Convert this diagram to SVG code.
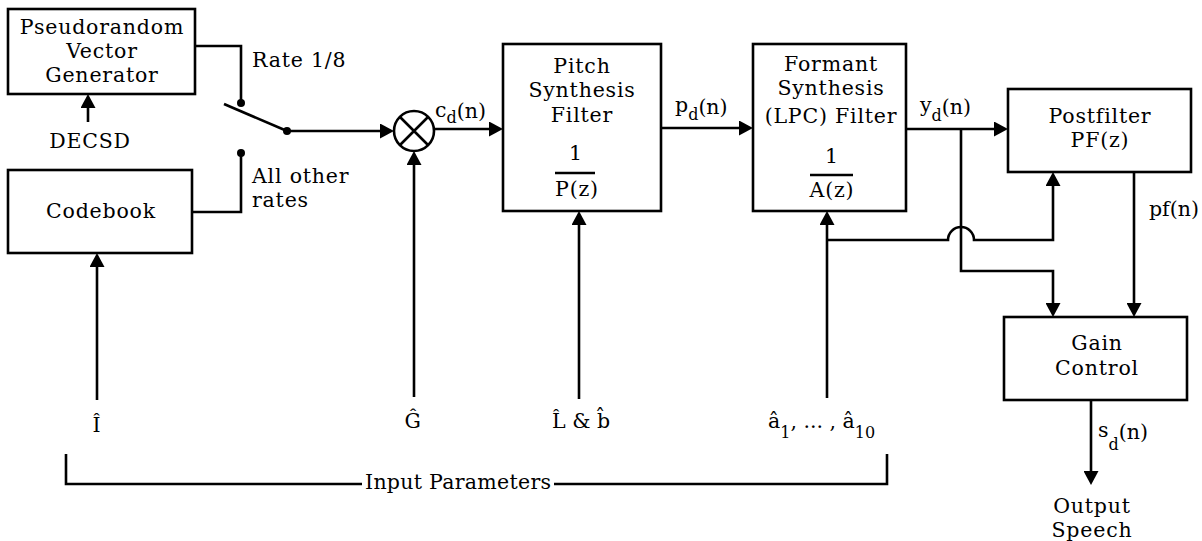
<svg xmlns="http://www.w3.org/2000/svg" width="1202" height="541" viewBox="0 0 1202 541">
<defs>
<marker id="ah" viewBox="0 0 14 15" refX="10" refY="7.5" markerWidth="14" markerHeight="15" markerUnits="userSpaceOnUse" orient="auto">
<path d="M0,0 L14,7.5 L0,15 z" fill="#000"/>
</marker>
<style>
text{font-family:"DejaVu Serif","Liberation Serif",serif;font-size:20.5px;letter-spacing:0.8px;fill:#000}
.c{text-anchor:middle}
.sub{font-size:16px;letter-spacing:0}
.box{fill:#fff;stroke:#000;stroke-width:2.6}
.ln{fill:none;stroke:#000;stroke-width:2.6}
.ar{fill:none;stroke:#000;stroke-width:2.6;marker-end:url(#ah)}
.dot{fill:#000}
</style>
</defs>
<rect width="1202" height="541" fill="#fff"/>

<g id="connectors">
<line class="ar" x1="88" y1="122" x2="88" y2="98"/>
<path class="ln" d="M195,46 H241 V103"/>
<path class="ln" d="M192,212 H241 V153"/>
<line class="ln" x1="224" y1="104" x2="287" y2="131"/>
<line class="ar" x1="287" y1="131" x2="390" y2="131"/>
<line class="ar" x1="414" y1="397" x2="414" y2="155"/>
<line class="ar" x1="434" y1="129" x2="499" y2="129"/>
<line class="ar" x1="661" y1="128" x2="749" y2="128"/>
<line class="ar" x1="906" y1="129" x2="1004" y2="129"/>
<line class="ar" x1="97" y1="400" x2="97" y2="257"/>
<line class="ar" x1="579" y1="399" x2="579" y2="215"/>
<line class="ar" x1="827" y1="398" x2="827" y2="215"/>
<path class="ar" d="M827,240 H948 A13,13 0 0 1 974,240 H1053 V176"/>
<path class="ar" d="M961,129 V271 H1053 V313"/>
<line class="ar" x1="1134" y1="172" x2="1134" y2="313"/>
<line class="ar" x1="1091" y1="400" x2="1091" y2="481"/>
<path class="ln" d="M66,454 V484 H362"/>
<path class="ln" d="M554,484 H887 V454"/>
<circle class="dot" cx="241" cy="103" r="4"/>
<circle class="dot" cx="241" cy="153" r="4"/>
<circle class="dot" cx="287" cy="131" r="4"/>
</g>

<g id="pseudorandom">
<rect class="box" x="8" y="9" width="187" height="85"/>
<text class="c" x="102" y="34">Pseudorandom</text>
<text class="c" x="102" y="58">Vector</text>
<text class="c" x="102" y="82">Generator</text>
</g>
<g id="decsd"><text class="c" x="90" y="148">DECSD</text></g>

<g id="codebook">
<rect class="box" x="8" y="170" width="184" height="83"/>
<text class="c" x="101" y="218">Codebook</text>
</g>

<g id="switch-labels">
<text x="252" y="67">Rate 1/8</text>
<text x="252" y="183">All other</text>
<text x="252" y="207">rates</text>
</g>

<g id="multiplier">
<circle cx="414" cy="131" r="20" fill="#fff" stroke="#000" stroke-width="2.6"/>
<path class="ln" d="M400,117 L428,145 M428,117 L400,145"/>
</g>
<g id="cd-label"><text x="435" y="117" style="letter-spacing:0">c<tspan class="sub" dy="6">d</tspan><tspan dy="-5">(n)</tspan></text></g>

<g id="pitch">
<rect class="box" x="503" y="44" width="158" height="167"/>
<text class="c" x="582" y="73">Pitch</text>
<text class="c" x="582" y="97">Synthesis</text>
<text class="c" x="582" y="122">Filter</text>
<text class="c" x="576" y="160">1</text>
<line class="ln" x1="555" y1="173" x2="595" y2="173" stroke-width="3"/>
<text class="c" x="577" y="196">P(z)</text>
</g>
<g id="pd-label"><text x="675" y="112" style="letter-spacing:0">p<tspan class="sub" dy="8">d</tspan><tspan dy="-6">(n)</tspan></text></g>

<g id="formant">
<rect class="box" x="753" y="44" width="153" height="167"/>
<text class="c" x="831" y="71">Formant</text>
<text class="c" x="831" y="95">Synthesis</text>
<text class="c" x="831" y="123">(LPC) Filter</text>
<text class="c" x="832" y="163">1</text>
<line class="ln" x1="810" y1="175" x2="853" y2="175" stroke-width="3"/>
<text class="c" x="832" y="197">A(z)</text>
</g>
<g id="yd-label"><text x="920" y="112" style="letter-spacing:0">y<tspan class="sub" dy="9">d</tspan><tspan dy="-7">(n)</tspan></text></g>

<g id="postfilter">
<rect class="box" x="1008" y="89" width="183" height="83"/>
<text class="c" x="1100" y="123">Postfilter</text>
<text class="c" x="1100" y="147">PF(z)</text>
</g>
<g id="pf-label"><text x="1149" y="216" style="letter-spacing:0">pf(n)</text></g>

<g id="gain">
<rect class="box" x="1004" y="317" width="183" height="83"/>
<text class="c" x="1097" y="350">Gain</text>
<text class="c" x="1097" y="375">Control</text>
</g>
<g id="sd-label"><text x="1098" y="437" style="letter-spacing:0">s<tspan class="sub" dy="13">d</tspan><tspan dy="-11">(n)</tspan></text></g>
<g id="output">
<text class="c" x="1092" y="513">Output</text>
<text class="c" x="1092" y="537">Speech</text>
</g>

<g id="inputs">
<text class="c" x="97" y="432">Î</text>
<text class="c" x="413" y="428">Ĝ</text>
<text x="552" y="428" style="letter-spacing:0">L̂ &amp; b̂</text>
<text x="768" y="428" style="letter-spacing:0">â<tspan class="sub" dy="10">1</tspan><tspan dy="-10">, ... , â</tspan><tspan class="sub" dy="10">10</tspan></text>
<text x="365" y="489" textLength="186" lengthAdjust="spacing" style="letter-spacing:0">Input Parameters</text>
</g>
</svg>
